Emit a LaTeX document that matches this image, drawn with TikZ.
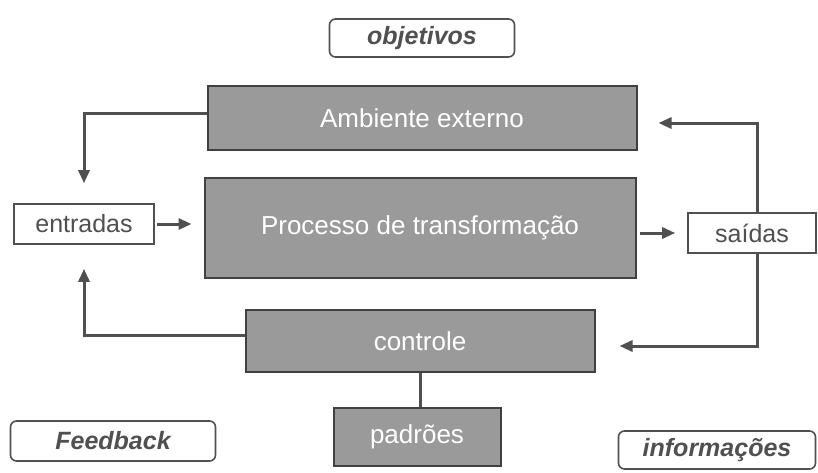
\documentclass[tikz,border=0pt]{standalone}
\usepackage{fontspec}
\setmainfont{Liberation Sans}
\usetikzlibrary{positioning, arrows.meta}

\definecolor{boxgray}{HTML}{9A9A9A}
\definecolor{linegray}{HTML}{505050}

\tikzset{
  bloco/.style={draw=linegray!80!black, line width=2pt, fill=boxgray, text=white,
    font=\fontsize{26}{30}\selectfont, inner sep=0pt},
  caixa/.style={draw=linegray, line width=1.6pt, fill=white, text=linegray,
    font=\fontsize{25}{30}\selectfont, inner sep=0pt},
  rotulo/.style={caixa, rounded corners=6pt, font=\fontsize{25}{30}\selectfont\bfseries\itshape},
  seta/.style={draw=linegray, line width=3pt, -{Triangle[length=13pt,width=11pt]}},
  liga/.style={draw=linegray, line width=3pt}
}

\begin{document}
\begin{tikzpicture}[x=1pt, y=-1pt]
    \useasboundingbox[fill=white] (0,0) rectangle (818,472);
    % caixas
    \node[rotulo, minimum width=185pt, minimum height=38pt] (obj) at (422,38) {objetivos};
    \node[bloco, minimum width=429pt, minimum height=64pt] (amb) at (422,118) {Ambiente externo};
    \node[bloco, minimum width=431pt, minimum height=100pt] (proc) at (420,228) {Processo de transformação};
    \node[caixa, minimum width=140pt, minimum height=40pt] (ent) at (84,224) {entradas};
    \node[caixa, minimum width=128pt, minimum height=40pt] (sai) at (752,233) {saídas};
    \node[bloco, minimum width=349pt, minimum height=62pt] (ctl) at (420,341) {controle};
    \node[bloco, minimum width=167pt, minimum height=58pt] (pad) at (417,437) {padrões};
    \node[rotulo, minimum width=205pt, minimum height=40pt] (fb) at (113,441) {Feedback};
    \node[rotulo, minimum width=197pt, minimum height=38pt] (inf) at (717,450) {informações};
    % setas
    \draw[seta, shorten >=20pt] ([yshift=5pt]amb.west) -| (ent.north);
    \draw[seta, shorten <=2pt, shorten >=12pt] (ent.east) -- (ent.east -| proc.west);
    \draw[seta, shorten <=3pt, shorten >=12pt] (proc.east |- sai.west) -- (sai.west);
    \draw[seta, shorten >=21pt] ([xshift=5pt]sai.north) |- ([yshift=-5pt]amb.east);
    \draw[seta, shorten >=24pt] ([xshift=5pt]sai.south) |- ([yshift=-5pt]ctl.east);
    \draw[seta, shorten >=24pt] ([yshift=6pt]ctl.west) -| (ent.south);
    \draw[liga] (ctl.south) -- (ctl.south |- pad.north);
\end{tikzpicture}
\end{document}
